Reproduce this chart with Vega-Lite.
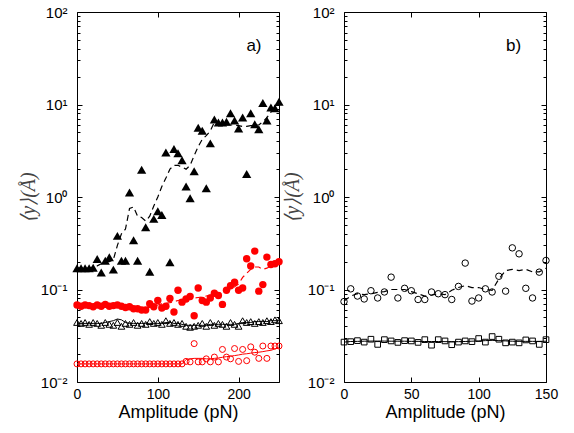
{
  "$schema": "https://vega.github.io/schema/vega-lite/v6.json",
  "padding": {"left": 17, "top": 4, "right": 5, "bottom": 5},
  "bounds": "flush",
  "spacing": 65,
  "config": {
    "font": "Liberation Sans",
    "view": {"stroke": "black", "strokeWidth": 1},
    "axis": {
      "labelFont": "Liberation Sans",
      "labelFontSize": 14,
      "labelColor": "black",
      "titleFont": "Liberation Sans",
      "titleFontSize": 18,
      "titleFontWeight": "normal",
      "titleColor": "black",
      "domain": false,
      "grid": false,
      "tickColor": "black",
      "tickWidth": 1
    }
  },
  "datasets": {
    "left": [
      {"a": 0, "T": 0.17, "Tf": 0.17, "C": 0.068, "Cf": 0.067, "t": 0.044, "tf": 0.043, "c": 0.0157, "cf": 0.0157},
      {"a": 5, "T": 0.17, "Tf": 0.17, "C": 0.066, "Cf": 0.067, "t": 0.043, "tf": 0.043, "c": 0.0157, "cf": 0.0157},
      {"a": 10, "T": 0.17, "Tf": 0.17, "C": 0.068, "Cf": 0.067, "t": 0.044, "tf": 0.043, "c": 0.0157, "cf": 0.0157},
      {"a": 15, "T": 0.17, "Tf": 0.17, "C": 0.067, "Cf": 0.067, "t": 0.042, "tf": 0.043, "c": 0.0157, "cf": 0.0157},
      {"a": 20, "T": 0.172, "Tf": 0.175, "C": 0.065, "Cf": 0.067, "t": 0.044, "tf": 0.043, "c": 0.0157, "cf": 0.0157},
      {"a": 25, "T": 0.214, "Tf": 0.18, "C": 0.068, "Cf": 0.067, "t": 0.043, "tf": 0.043, "c": 0.0157, "cf": 0.0157},
      {"a": 30, "T": 0.153, "Tf": 0.19, "C": 0.066, "Cf": 0.067, "t": 0.041, "tf": 0.043, "c": 0.0157, "cf": 0.0157},
      {"a": 35, "T": 0.205, "Tf": 0.2, "C": 0.069, "Cf": 0.067, "t": 0.044, "tf": 0.044, "c": 0.0157, "cf": 0.0157},
      {"a": 40, "T": 0.223, "Tf": 0.2, "C": 0.066, "Cf": 0.066, "t": 0.042, "tf": 0.045, "c": 0.0157, "cf": 0.0157},
      {"a": 45, "T": 0.164, "Tf": 0.21, "C": 0.067, "Cf": 0.066, "t": 0.041, "tf": 0.046, "c": 0.0157, "cf": 0.0157},
      {"a": 50, "T": 0.38, "Tf": 0.3, "C": 0.068, "Cf": 0.066, "t": 0.044, "tf": 0.048, "c": 0.0157, "cf": 0.0157},
      {"a": 55, "T": 0.205, "Tf": 0.4, "C": 0.066, "Cf": 0.065, "t": 0.04, "tf": 0.047, "c": 0.0157, "cf": 0.0157},
      {"a": 60, "T": 0.205, "Tf": 0.45, "C": 0.064, "Cf": 0.064, "t": 0.043, "tf": 0.044, "c": 0.0157, "cf": 0.0157},
      {"a": 65, "T": 1.12, "Tf": 0.75, "C": 0.065, "Cf": 0.063, "t": 0.042, "tf": 0.043, "c": 0.0157, "cf": 0.0157},
      {"a": 70, "T": 0.34, "Tf": 0.78, "C": 0.062, "Cf": 0.062, "t": 0.044, "tf": 0.043, "c": 0.0157, "cf": 0.0157},
      {"a": 75, "T": 0.205, "Tf": 0.62, "C": 0.062, "Cf": 0.062, "t": 0.041, "tf": 0.043, "c": 0.0157, "cf": 0.0157},
      {"a": 80, "T": 1.97, "Tf": 0.6, "C": 0.06, "Cf": 0.062, "t": 0.043, "tf": 0.043, "c": 0.0157, "cf": 0.0157},
      {"a": 85, "T": 0.47, "Tf": 0.55, "C": 0.06, "Cf": 0.063, "t": 0.042, "tf": 0.043, "c": 0.0157, "cf": 0.0157},
      {"a": 90, "T": 0.156, "Tf": 0.62, "C": 0.07, "Cf": 0.064, "t": 0.045, "tf": 0.043, "c": 0.0157, "cf": 0.0157},
      {"a": 95, "T": 0.58, "Tf": 0.8, "C": 0.065, "Cf": 0.066, "t": 0.043, "tf": 0.043, "c": 0.0157, "cf": 0.0157},
      {"a": 100, "T": 0.7, "Tf": 1.0, "C": 0.076, "Cf": 0.068, "t": 0.044, "tf": 0.043, "c": 0.0157, "cf": 0.0157},
      {"a": 105, "T": 0.64, "Tf": 1.3, "C": 0.063, "Cf": 0.07, "t": 0.042, "tf": 0.043, "c": 0.0157, "cf": 0.0157},
      {"a": 110, "T": 3.03, "Tf": 1.6, "C": 0.066, "Cf": 0.071, "t": 0.046, "tf": 0.044, "c": 0.0157, "cf": 0.0157},
      {"a": 115, "T": 0.197, "Tf": 2.0, "C": 0.08, "Cf": 0.072, "t": 0.043, "tf": 0.044, "c": 0.0157, "cf": 0.0157},
      {"a": 120, "T": 3.3, "Tf": 2.2, "C": 0.057, "Cf": 0.074, "t": 0.044, "tf": 0.043, "c": 0.0157, "cf": 0.0157},
      {"a": 125, "T": 2.98, "Tf": 2.2, "C": 0.098, "Cf": 0.076, "t": 0.042, "tf": 0.043, "c": 0.0157, "cf": 0.0157},
      {"a": 130, "T": 2.5, "Tf": 2.1, "C": 0.073, "Cf": 0.078, "t": 0.043, "tf": 0.042, "c": 0.0157, "cf": 0.0157},
      {"a": 135, "T": 1.3, "Tf": 2.0, "C": 0.079, "Cf": 0.079, "t": 0.04, "tf": 0.041, "c": 0.0167, "cf": 0.0175},
      {"a": 140, "T": 0.97, "Tf": 2.2, "C": 0.084, "Cf": 0.08, "t": 0.039, "tf": 0.041, "c": 0.0165, "cf": 0.0178},
      {"a": 145, "T": 1.9, "Tf": 2.8, "C": 0.052, "Cf": 0.081, "t": 0.04, "tf": 0.041, "c": 0.026, "cf": 0.018},
      {"a": 150, "T": 5.6, "Tf": 3.5, "C": 0.104, "Cf": 0.082, "t": 0.041, "tf": 0.041, "c": 0.0165, "cf": 0.018},
      {"a": 155, "T": 5.2, "Tf": 4.2, "C": 0.076, "Cf": 0.083, "t": 0.043, "tf": 0.041, "c": 0.0165, "cf": 0.018},
      {"a": 160, "T": 1.24, "Tf": 4.6, "C": 0.073, "Cf": 0.085, "t": 0.04, "tf": 0.041, "c": 0.0178, "cf": 0.0178},
      {"a": 165, "T": 3.8, "Tf": 5.2, "C": 0.081, "Cf": 0.087, "t": 0.044, "tf": 0.042, "c": 0.0165, "cf": 0.0178},
      {"a": 170, "T": 6.9, "Tf": 6.4, "C": 0.091, "Cf": 0.088, "t": 0.041, "tf": 0.042, "c": 0.0186, "cf": 0.018},
      {"a": 175, "T": 6.4, "Tf": 6.3, "C": 0.086, "Cf": 0.09, "t": 0.043, "tf": 0.042, "c": 0.0165, "cf": 0.0182},
      {"a": 180, "T": 6.4, "Tf": 6.1, "C": 0.069, "Cf": 0.092, "t": 0.042, "tf": 0.042, "c": 0.0225, "cf": 0.0185},
      {"a": 185, "T": 6.5, "Tf": 6.0, "C": 0.098, "Cf": 0.095, "t": 0.04, "tf": 0.042, "c": 0.0186, "cf": 0.0188},
      {"a": 190, "T": 8.05, "Tf": 6.0, "C": 0.11, "Cf": 0.1, "t": 0.044, "tf": 0.042, "c": 0.0178, "cf": 0.019},
      {"a": 195, "T": 6.7, "Tf": 6.0, "C": 0.12, "Cf": 0.107, "t": 0.042, "tf": 0.042, "c": 0.023, "cf": 0.0193},
      {"a": 200, "T": 5.5, "Tf": 5.9, "C": 0.098, "Cf": 0.115, "t": 0.04, "tf": 0.043, "c": 0.0167, "cf": 0.0196},
      {"a": 205, "T": 7.25, "Tf": 5.8, "C": 0.104, "Cf": 0.135, "t": 0.046, "tf": 0.044, "c": 0.0225, "cf": 0.02},
      {"a": 210, "T": 1.77, "Tf": 5.8, "C": 0.215, "Cf": 0.15, "t": 0.044, "tf": 0.044, "c": 0.017, "cf": 0.0202},
      {"a": 215, "T": 8.05, "Tf": 5.9, "C": 0.18, "Cf": 0.165, "t": 0.045, "tf": 0.044, "c": 0.024, "cf": 0.0205},
      {"a": 220, "T": 6.1, "Tf": 6.0, "C": 0.26, "Cf": 0.175, "t": 0.043, "tf": 0.045, "c": 0.021, "cf": 0.0208},
      {"a": 225, "T": 5.4, "Tf": 6.0, "C": 0.096, "Cf": 0.175, "t": 0.045, "tf": 0.045, "c": 0.018, "cf": 0.021},
      {"a": 230, "T": 10.4, "Tf": 6.5, "C": 0.113, "Cf": 0.165, "t": 0.044, "tf": 0.045, "c": 0.0245, "cf": 0.0213},
      {"a": 235, "T": 6.7, "Tf": 7.2, "C": 0.224, "Cf": 0.17, "t": 0.046, "tf": 0.045, "c": 0.018, "cf": 0.0217},
      {"a": 240, "T": 9.3, "Tf": 8.3, "C": 0.186, "Cf": 0.18, "t": 0.045, "tf": 0.046, "c": 0.0245, "cf": 0.022},
      {"a": 245, "T": 9.1, "Tf": 8.8, "C": 0.19, "Cf": 0.19, "t": 0.047, "tf": 0.046, "c": 0.0245, "cf": 0.0228},
      {"a": 250, "T": 10.7, "Tf": 9.0, "C": 0.2, "Cf": 0.195, "t": 0.046, "tf": 0.046, "c": 0.0245, "cf": 0.0235}
    ],
    "right": [
      {"a": 0, "o": 0.074, "of": 0.075, "s": 0.027, "sf": 0.027},
      {"a": 5, "o": 0.1017, "of": 0.085, "s": 0.0273, "sf": 0.0274},
      {"a": 10, "o": 0.085, "of": 0.09, "s": 0.028, "sf": 0.0275},
      {"a": 15, "o": 0.079, "of": 0.088, "s": 0.027, "sf": 0.0276},
      {"a": 20, "o": 0.097, "of": 0.09, "s": 0.029, "sf": 0.0277},
      {"a": 25, "o": 0.081, "of": 0.093, "s": 0.0255, "sf": 0.0277},
      {"a": 30, "o": 0.094, "of": 0.095, "s": 0.0287, "sf": 0.0277},
      {"a": 35, "o": 0.136, "of": 0.1, "s": 0.0278, "sf": 0.0276},
      {"a": 40, "o": 0.081, "of": 0.1, "s": 0.0268, "sf": 0.0276},
      {"a": 45, "o": 0.103, "of": 0.1, "s": 0.028, "sf": 0.0276},
      {"a": 50, "o": 0.097, "of": 0.095, "s": 0.0278, "sf": 0.0275},
      {"a": 55, "o": 0.078, "of": 0.09, "s": 0.0268, "sf": 0.0275},
      {"a": 60, "o": 0.078, "of": 0.085, "s": 0.0287, "sf": 0.0274},
      {"a": 65, "o": 0.094, "of": 0.087, "s": 0.025, "sf": 0.0274},
      {"a": 70, "o": 0.09, "of": 0.09, "s": 0.0287, "sf": 0.0274},
      {"a": 75, "o": 0.088, "of": 0.088, "s": 0.0278, "sf": 0.0273},
      {"a": 80, "o": 0.078, "of": 0.098, "s": 0.0253, "sf": 0.0273},
      {"a": 85, "o": 0.108, "of": 0.105, "s": 0.027, "sf": 0.0273},
      {"a": 90, "o": 0.193, "of": 0.11, "s": 0.0278, "sf": 0.0274},
      {"a": 95, "o": 0.075, "of": 0.105, "s": 0.0273, "sf": 0.0276},
      {"a": 100, "o": 0.081, "of": 0.105, "s": 0.0295, "sf": 0.0278},
      {"a": 105, "o": 0.1017, "of": 0.1, "s": 0.027, "sf": 0.028},
      {"a": 110, "o": 0.094, "of": 0.098, "s": 0.031, "sf": 0.0282},
      {"a": 115, "o": 0.139, "of": 0.13, "s": 0.029, "sf": 0.028},
      {"a": 120, "o": 0.096, "of": 0.16, "s": 0.0265, "sf": 0.0278},
      {"a": 125, "o": 0.282, "of": 0.165, "s": 0.027, "sf": 0.0276},
      {"a": 130, "o": 0.243, "of": 0.16, "s": 0.0265, "sf": 0.0275},
      {"a": 135, "o": 0.103, "of": 0.165, "s": 0.0285, "sf": 0.0275},
      {"a": 140, "o": 0.081, "of": 0.155, "s": 0.0278, "sf": 0.0275},
      {"a": 145, "o": 0.154, "of": 0.155, "s": 0.0255, "sf": 0.0275},
      {"a": 150, "o": 0.206, "of": 0.17, "s": 0.0287, "sf": 0.0276}
    ]
  },
  "hconcat": [
    {
      "width": 202,
      "height": 370,
      "data": {"name": "left"},
      "resolve": {"axis": {"x": "independent", "y": "independent"}},
      "layer": [
        {
          "mark": {"type": "point", "shape": "triangle-up", "filled": true, "color": "black", "size": 85, "opacity": 1, "strokeWidth": 0},
          "encoding": {
            "x": {"field": "a", "type": "quantitative", "scale": {"domain": [0, 250], "nice": false, "zero": false},
              "axis": {"orient": "bottom", "values": [0, 100, 200], "tickSize": -5, "labelPadding": 10, "labelFlush": false, "title": "Amplitude (pN)", "titlePadding": 2}},
            "y": {"field": "T", "type": "quantitative", "scale": {"type": "log", "domain": [0.01, 100], "nice": false},
              "axis": {"orient": "left",
                "values": [0.01,0.02,0.03,0.04,0.05,0.06,0.07,0.08,0.09,0.1,0.2,0.3,0.4,0.5,0.6,0.7,0.8,0.9,1,2,3,4,5,6,7,8,9,10,20,30,40,50,60,70,80,90,100],
                "tickSize": {"condition": {"test": "datum.value===0.01||datum.value===0.1||datum.value===1||datum.value===10||datum.value===100", "value": -5}, "value": -3},
                "labelExpr": "datum.value===100?'10²':datum.value===10?'10¹':datum.value===1?'10⁰':datum.value===0.1?'10⁻¹':datum.value===0.01?'10⁻²':''",
                "labelFontSize": 15, "labelPadding": 15, "labelFlush": false, "labelOverlap": false,
                "title": "⟨y⟩(Å)", "titleFont": "Liberation Serif", "titleFontStyle": "italic", "titleFontSize": 20, "titleColor": "#444444",
                "titleX": -49, "titleY": 185, "titleAngle": -90, "titleAlign": "center", "titleBaseline": "middle"}}
          }
        },
        {
          "mark": {"type": "line", "color": "black", "strokeWidth": 1.2, "strokeDash": [6, 4]},
          "encoding": {
            "x": {"field": "a", "type": "quantitative", "scale": {"domain": [0, 250], "nice": false, "zero": false},
              "axis": {"orient": "top", "values": [0, 100, 200], "tickSize": -5, "labels": false, "title": null}},
            "y": {"field": "Tf", "type": "quantitative", "scale": {"type": "log", "domain": [0.01, 100], "nice": false},
              "axis": {"orient": "right",
                "values": [0.01,0.02,0.03,0.04,0.05,0.06,0.07,0.08,0.09,0.1,0.2,0.3,0.4,0.5,0.6,0.7,0.8,0.9,1,2,3,4,5,6,7,8,9,10,20,30,40,50,60,70,80,90,100],
                "tickSize": {"condition": {"test": "datum.value===0.01||datum.value===0.1||datum.value===1||datum.value===10||datum.value===100", "value": -5}, "value": -3},
                "labels": false, "title": null}}
          }
        },
        {
          "mark": {"type": "point", "shape": "circle", "filled": true, "color": "#ff0000", "size": 55, "opacity": 1, "strokeWidth": 0},
          "encoding": {
            "x": {"field": "a", "type": "quantitative", "scale": {"domain": [0, 250], "nice": false, "zero": false}, "axis": null},
            "y": {"field": "C", "type": "quantitative", "scale": {"type": "log", "domain": [0.01, 100], "nice": false}, "axis": null}
          }
        },
        {
          "mark": {"type": "line", "color": "#ff0000", "strokeWidth": 1.2, "strokeDash": [6, 4]},
          "encoding": {
            "x": {"field": "a", "type": "quantitative", "scale": {"domain": [0, 250], "nice": false, "zero": false}, "axis": null},
            "y": {"field": "Cf", "type": "quantitative", "scale": {"type": "log", "domain": [0.01, 100], "nice": false}, "axis": null}
          }
        },
        {
          "mark": {"type": "point", "shape": "triangle-up", "filled": false, "color": "black", "size": 45, "opacity": 1, "strokeWidth": 1},
          "encoding": {
            "x": {"field": "a", "type": "quantitative", "scale": {"domain": [0, 250], "nice": false, "zero": false}, "axis": null},
            "y": {"field": "t", "type": "quantitative", "scale": {"type": "log", "domain": [0.01, 100], "nice": false}, "axis": null}
          }
        },
        {
          "mark": {"type": "line", "color": "black", "strokeWidth": 1},
          "encoding": {
            "x": {"field": "a", "type": "quantitative", "scale": {"domain": [0, 250], "nice": false, "zero": false}, "axis": null},
            "y": {"field": "tf", "type": "quantitative", "scale": {"type": "log", "domain": [0.01, 100], "nice": false}, "axis": null}
          }
        },
        {
          "mark": {"type": "point", "shape": "circle", "filled": false, "color": "#ff0000", "size": 36, "opacity": 1, "strokeWidth": 1},
          "encoding": {
            "x": {"field": "a", "type": "quantitative", "scale": {"domain": [0, 250], "nice": false, "zero": false}, "axis": null},
            "y": {"field": "c", "type": "quantitative", "scale": {"type": "log", "domain": [0.01, 100], "nice": false}, "axis": null}
          }
        },
        {
          "mark": {"type": "line", "color": "#ff0000", "strokeWidth": 1},
          "encoding": {
            "x": {"field": "a", "type": "quantitative", "scale": {"domain": [0, 250], "nice": false, "zero": false}, "axis": null},
            "y": {"field": "cf", "type": "quantitative", "scale": {"type": "log", "domain": [0.01, 100], "nice": false}, "axis": null}
          }
        },
        {
          "data": {"values": [{"a": 219, "v": 43, "lab": "a)"}]},
          "mark": {"type": "text", "fontSize": 17, "font": "Liberation Sans", "color": "black", "align": "center", "baseline": "middle"},
          "encoding": {
            "x": {"field": "a", "type": "quantitative", "scale": {"domain": [0, 250], "nice": false, "zero": false}, "axis": null},
            "y": {"field": "v", "type": "quantitative", "scale": {"type": "log", "domain": [0.01, 100], "nice": false}, "axis": null},
            "text": {"field": "lab"}
          }
        }
      ]
    },
    {
      "width": 202,
      "height": 370,
      "data": {"name": "right"},
      "resolve": {"axis": {"x": "independent", "y": "independent"}},
      "layer": [
        {
          "mark": {"type": "point", "shape": "circle", "filled": false, "color": "black", "size": 42, "opacity": 1, "strokeWidth": 1},
          "encoding": {
            "x": {"field": "a", "type": "quantitative", "scale": {"domain": [0, 150], "nice": false, "zero": false},
              "axis": {"orient": "bottom", "values": [0, 50, 100, 150], "tickSize": -5, "labelPadding": 10, "labelFlush": false, "title": "Amplitude (pN)", "titlePadding": 2}},
            "y": {"field": "o", "type": "quantitative", "scale": {"type": "log", "domain": [0.01, 100], "nice": false},
              "axis": {"orient": "left",
                "values": [0.01,0.02,0.03,0.04,0.05,0.06,0.07,0.08,0.09,0.1,0.2,0.3,0.4,0.5,0.6,0.7,0.8,0.9,1,2,3,4,5,6,7,8,9,10,20,30,40,50,60,70,80,90,100],
                "tickSize": {"condition": {"test": "datum.value===0.01||datum.value===0.1||datum.value===1||datum.value===10||datum.value===100", "value": -5}, "value": -3},
                "labelExpr": "datum.value===100?'10²':datum.value===10?'10¹':datum.value===1?'10⁰':datum.value===0.1?'10⁻¹':datum.value===0.01?'10⁻²':''",
                "labelFontSize": 15, "labelPadding": 15, "labelFlush": false, "labelOverlap": false,
                "title": "⟨y⟩(Å)", "titleFont": "Liberation Serif", "titleFontStyle": "italic", "titleFontSize": 20, "titleColor": "#444444",
                "titleX": -52, "titleY": 185, "titleAngle": -90, "titleAlign": "center", "titleBaseline": "middle"}}
          }
        },
        {
          "mark": {"type": "line", "color": "black", "strokeWidth": 1.2, "strokeDash": [6, 4]},
          "encoding": {
            "x": {"field": "a", "type": "quantitative", "scale": {"domain": [0, 150], "nice": false, "zero": false},
              "axis": {"orient": "top", "values": [0, 50, 100, 150], "tickSize": -5, "labels": false, "title": null}},
            "y": {"field": "of", "type": "quantitative", "scale": {"type": "log", "domain": [0.01, 100], "nice": false},
              "axis": {"orient": "right",
                "values": [0.01,0.02,0.03,0.04,0.05,0.06,0.07,0.08,0.09,0.1,0.2,0.3,0.4,0.5,0.6,0.7,0.8,0.9,1,2,3,4,5,6,7,8,9,10,20,30,40,50,60,70,80,90,100],
                "tickSize": {"condition": {"test": "datum.value===0.01||datum.value===0.1||datum.value===1||datum.value===10||datum.value===100", "value": -5}, "value": -3},
                "labels": false, "title": null}}
          }
        },
        {
          "mark": {"type": "point", "shape": "square", "filled": false, "color": "black", "size": 32, "opacity": 1, "strokeWidth": 1},
          "encoding": {
            "x": {"field": "a", "type": "quantitative", "scale": {"domain": [0, 150], "nice": false, "zero": false}, "axis": null},
            "y": {"field": "s", "type": "quantitative", "scale": {"type": "log", "domain": [0.01, 100], "nice": false}, "axis": null}
          }
        },
        {
          "mark": {"type": "line", "color": "black", "strokeWidth": 1},
          "encoding": {
            "x": {"field": "a", "type": "quantitative", "scale": {"domain": [0, 150], "nice": false, "zero": false}, "axis": null},
            "y": {"field": "sf", "type": "quantitative", "scale": {"type": "log", "domain": [0.01, 100], "nice": false}, "axis": null}
          }
        },
        {
          "data": {"values": [{"a": 126, "v": 43, "lab": "b)"}]},
          "mark": {"type": "text", "fontSize": 17, "font": "Liberation Sans", "color": "black", "align": "center", "baseline": "middle"},
          "encoding": {
            "x": {"field": "a", "type": "quantitative", "scale": {"domain": [0, 150], "nice": false, "zero": false}, "axis": null},
            "y": {"field": "v", "type": "quantitative", "scale": {"type": "log", "domain": [0.01, 100], "nice": false}, "axis": null},
            "text": {"field": "lab"}
          }
        }
      ]
    }
  ]
}
